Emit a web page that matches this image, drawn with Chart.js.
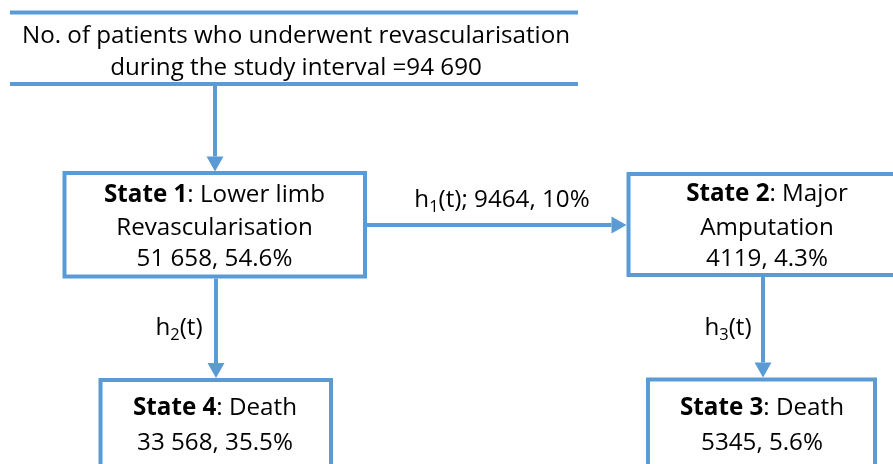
<!DOCTYPE html>
<html>
<head>
<meta charset="utf-8">
<script src="https://cdn.jsdelivr.net/npm/chart.js@4.4.1/dist/chart.umd.min.js"></script>
<style>
  html, body { margin: 0; padding: 0; background: #ffffff; }
  #wrap { width: 893px; height: 464px; position: relative; }
</style>
</head>
<body>
<div id="wrap"><canvas id="c" width="893" height="464"></canvas></div>
<script>
// ---------------- data ----------------
const totalPatients = 94690;
const headerLines = ["No. of patients who underwent revascularisation", "during the study interval ="];
const stateNames = ["State 1", "State 2", "State 3", "State 4"];
const stateTitles = [["Lower limb", "Revascularisation"], ["Major", "Amputation"], ["Death"], ["Death"]];
const stateCounts = [51658, 4119, 5345, 33568];
const statePercents = ["54.6%", "4.3%", "5.6%", "35.5%"];
const transitionNames = ["h1", "h2", "h3"];
const transitionCounts = [9464, null, null];
const transitionPercents = ["10%", null, null];

// ---------------- layout (in chart-scale units) ----------------
const layout = {
  header: { x0: 10, x1: 578, yTop: 12.5, yBot: 84, cx: 296, lines: [36, 68] },
  states: [
    { x0: 64.5, x1: 365, y0: 173, y1: 276.5, cx: 214.5, lines: [195, 228, 259] },
    { x0: 628.5, x1: 910, y0: 174, y1: 275, cx: 767, lines: [194, 228, 259] },
    { x0: 648, x1: 875, y0: 379.5, y1: 480, cx: 762, lines: [408, 443] },
    { x0: 100.5, x1: 331, y0: 380, y1: 480, cx: 215, lines: [408, 443] }
  ],
  arrows: [
    { from: [215, 86], to: [215, 171.5] },
    { from: [367, 225], to: [626.5, 225], label: [502, 200] },
    { from: [216, 278.5], to: [216, 378], label: [179, 328] },
    { from: [763, 277], to: [763, 377.5], label: [728, 328] }
  ]
};

const BLUE = "#5B9BD5";
const FONT = "'Open Sans', Lato, sans-serif";
const FS = 24.2;

function fmt(n) {
  const s = String(n);
  if (n < 10000) return s;
  return s.replace(/\B(?=(\d{3})+(?!\d))/g, " ");
}

function drawRuns(ctx, runs, cx, cy) {
  let total = 0;
  const meas = runs.map(r => {
    const size = r.sub ? FS * 0.68 : FS;
    ctx.font = (r.bold ? "bold " : "") + size + "px " + FONT;
    const w = ctx.measureText(r.t).width;
    total += w;
    return { r, size, w };
  });
  let x = cx - total / 2;
  ctx.textBaseline = "middle";
  ctx.textAlign = "left";
  ctx.fillStyle = "#000000";
  meas.forEach(m => {
    ctx.font = (m.r.bold ? "bold " : "") + m.size + "px " + FONT;
    ctx.fillText(m.r.t, x, cy + (m.r.sub ? FS * 0.3 : 0));
    x += m.w;
  });
}

const flowPlugin = {
  id: "flow",
  afterDraw(chart) {
    const ctx = chart.ctx;
    const X = v => chart.scales.x.getPixelForValue(v);
    const Y = v => chart.scales.y.getPixelForValue(v);
    ctx.save();
    ctx.strokeStyle = BLUE;
    ctx.fillStyle = BLUE;
    ctx.lineWidth = 4;
    ctx.lineCap = "butt";

    const h = layout.header;
    [h.yTop, h.yBot].forEach(yy => {
      ctx.beginPath();
      ctx.moveTo(X(h.x0), Y(yy));
      ctx.lineTo(X(h.x1), Y(yy));
      ctx.stroke();
    });

    layout.states.forEach(b => {
      ctx.strokeStyle = BLUE;
      ctx.lineWidth = 4;
      ctx.strokeRect(X(b.x0), Y(b.y0), X(b.x1) - X(b.x0), Y(b.y1) - Y(b.y0));
    });

    layout.arrows.forEach(a => {
      const x0 = X(a.from[0]), y0 = Y(a.from[1]), x1 = X(a.to[0]), y1 = Y(a.to[1]);
      const ang = Math.atan2(y1 - y0, x1 - x0);
      const L = 15, W = 8.5;
      const bx = x1 - L * Math.cos(ang), by = y1 - L * Math.sin(ang);
      ctx.strokeStyle = BLUE;
      ctx.lineWidth = 4;
      ctx.beginPath();
      ctx.moveTo(x0, y0);
      ctx.lineTo(bx, by);
      ctx.stroke();
      ctx.fillStyle = BLUE;
      ctx.beginPath();
      ctx.moveTo(x1, y1);
      ctx.lineTo(bx - W * Math.sin(ang), by + W * Math.cos(ang));
      ctx.lineTo(bx + W * Math.sin(ang), by - W * Math.cos(ang));
      ctx.closePath();
      ctx.fill();
    });

    drawRuns(ctx, [{ t: headerLines[0] }], X(h.cx), Y(h.lines[0]));
    drawRuns(ctx, [{ t: headerLines[1] + fmt(totalPatients) }], X(h.cx), Y(h.lines[1]));

    layout.states.forEach((b, i) => {
      const titles = stateTitles[i];
      const lines = [];
      lines.push([{ t: stateNames[i], bold: true }, { t: ": " + titles[0] }]);
      for (let k = 1; k < titles.length; k++) lines.push([{ t: titles[k] }]);
      lines.push([{ t: fmt(stateCounts[i]) + ", " + statePercents[i] }]);
      lines.forEach((runs, k) => drawRuns(ctx, runs, X(b.cx), Y(b.lines[k])));
    });

    transitionNames.forEach((name, i) => {
      const a = layout.arrows[i + 1];
      const runs = [{ t: name[0] }, { t: name.slice(1), sub: true }, { t: "(t)" }];
      if (transitionCounts[i] != null) runs.push({ t: "; " + fmt(transitionCounts[i]) + ", " + transitionPercents[i] });
      drawRuns(ctx, runs, X(a.label[0]), Y(a.label[1]));
    });
    ctx.restore();
  }
};

new Chart(document.getElementById("c"), {
  type: "scatter",
  data: { datasets: [{ data: [], showLine: false }] },
  options: {
    responsive: false,
    animation: false,
    layout: { padding: 0 },
    plugins: { legend: { display: false }, tooltip: { enabled: false } },
    scales: {
      x: { type: "linear", min: 0, max: 893, display: false },
      y: { type: "linear", min: 0, max: 464, reverse: true, display: false }
    }
  },
  plugins: [flowPlugin]
});
</script>
</body>
</html>
